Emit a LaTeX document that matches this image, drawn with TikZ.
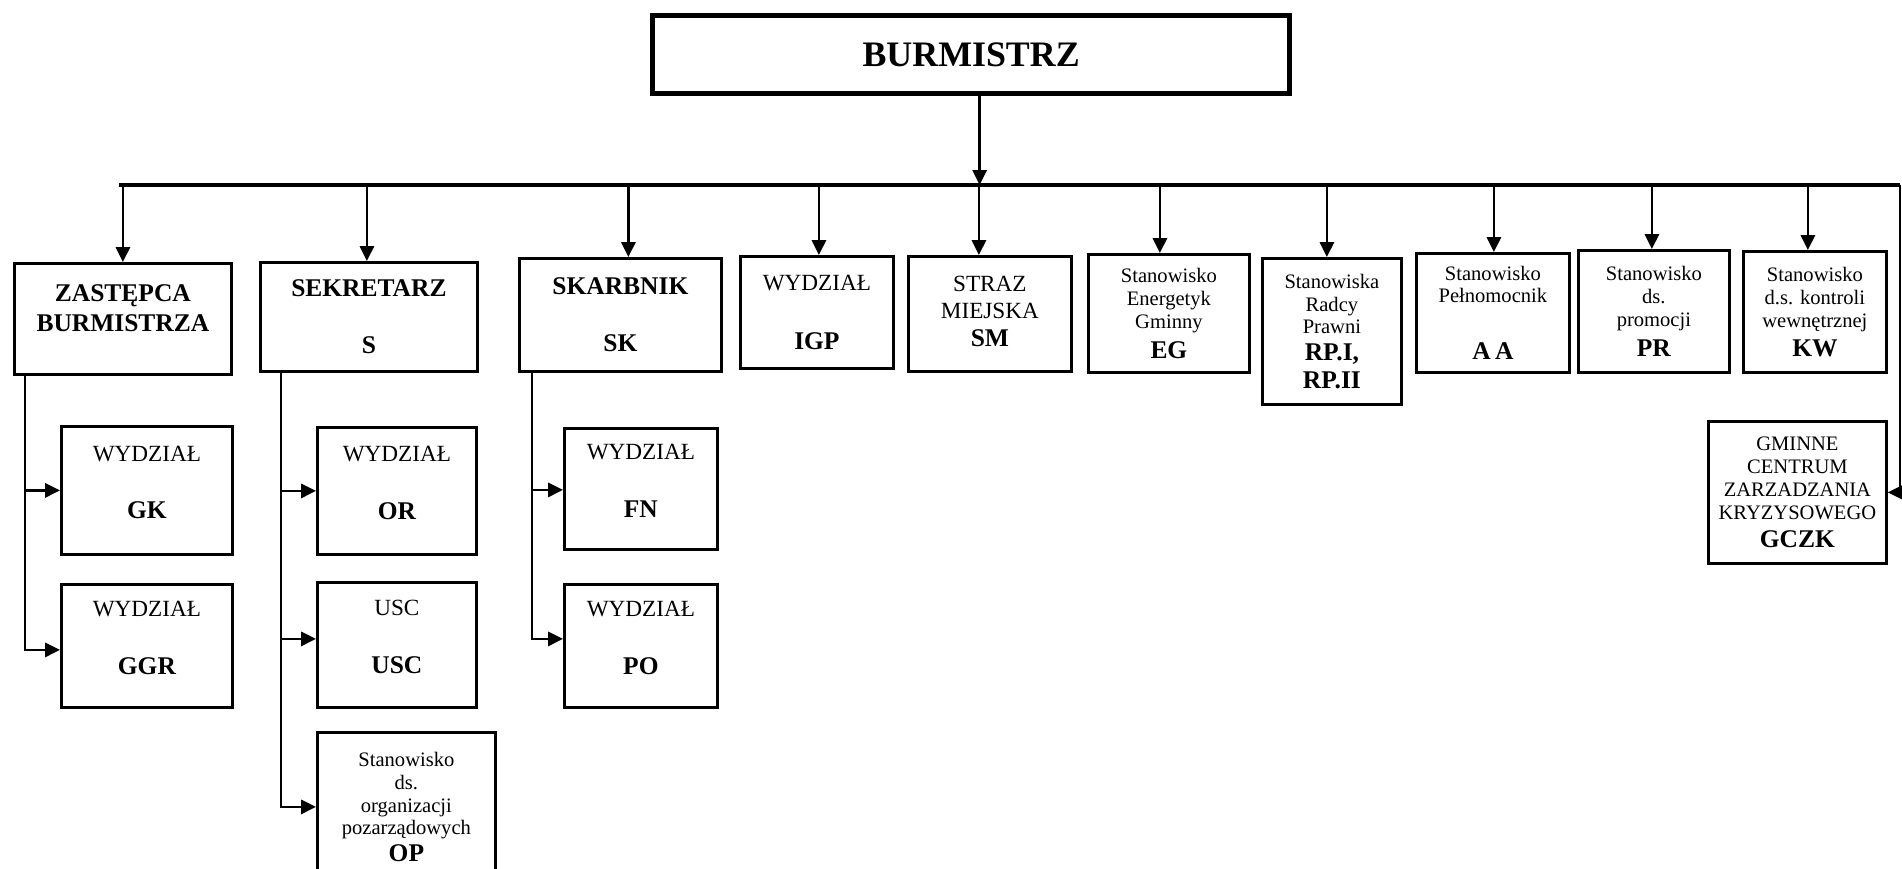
\documentclass[tikz,border=0pt]{standalone}
\usepackage{fontspec}
\setmainfont{Liberation Serif}
\usepackage{tikz}
\usetikzlibrary{arrows.meta}
\newcommand{\orgbig}{\fontsize{10.2}{12}\selectfont\bfseries}
\newcommand{\orgbold}{\fontsize{7.25}{8.3}\selectfont\bfseries}
\newcommand{\orgmid}{\fontsize{6.6}{7.8}\selectfont}
\newcommand{\orgsmall}{\fontsize{5.85}{6.5}\selectfont}

\begin{document}
\begin{tikzpicture}[x=0.1mm, y=-0.1mm,
        unit/.style={draw, line width=0.8pt, anchor=north west, align=center, inner sep=1pt},
        link/.style={line width=0.7pt},
        pointer/.style={link, -{Triangle[length=4.2pt, width=4pt]}}]
            \useasboundingbox (0,0) rectangle (1902,869);
            \node[unit, line width=1.5pt, minimum width=63.7mm, minimum height=7.8mm, font=\orgbig] (burmistrz) at (650,13) {BURMISTRZ};
            \node[unit, minimum width=21.7mm, minimum height=11.1mm, font=\orgbold] (zastepca) at (13,262) {ZASTĘPCA\\BURMISTRZA\\[-2.1pt]\mbox{}};
            \node[unit, minimum width=21.7mm, minimum height=10.9mm, font=\orgbold] (sekretarz) at (259,261) {SEKRETARZ\\[8pt]S};
            \node[unit, minimum width=20.2mm, minimum height=11.3mm, font=\orgbold] (skarbnik) at (518,257) {SKARBNIK\\[8pt]SK};
            \node[unit, minimum width=15.3mm, minimum height=11.2mm, font=\orgmid] (igp) at (739,255) {WYDZIAŁ\\[9pt]{\orgbold IGP}};
            \node[unit, minimum width=16.3mm, minimum height=11.5mm, font=\orgmid] (sm) at (907,255) {STRAZ\\MIEJSKA\\{\orgbold SM}\\[-6.2pt]\mbox{}};
            \node[unit, minimum width=16.1mm, minimum height=11.8mm, font=\orgsmall] (eg) at (1087,253) {Stanowisko\\Energetyk\\Gminny\\[2pt]{\orgbold EG}};
            \node[unit, minimum width=13.9mm, minimum height=14.6mm, font=\orgsmall] (rp) at (1261,257) {Stanowiska\\Radcy\\Prawni\\[1pt]{\orgbold RP.I,}\\[1.5pt]{\orgbold RP.II}};
            \node[unit, minimum width=15.3mm, minimum height=11.9mm, font=\orgsmall] (aa) at (1415,252) {Stanowisko\\Pełnomocnik\\[9.7pt]{\orgbold A\,A}};
            \node[unit, minimum width=15.1mm, minimum height=12.2mm, font=\orgsmall] (pr) at (1577,249) {Stanowisko\\ds.\\promocji\\[2pt]{\orgbold PR}};
            \node[unit, minimum width=14.3mm, minimum height=12.1mm, font=\orgsmall] (kw) at (1742,250) {Stanowisko\\d.s. kontroli\\wewnętrznej\\[1.8pt]{\orgbold KW}};
            \node[unit, minimum width=17.8mm, minimum height=14.2mm, font=\orgsmall] (gczk) at (1707,420) {GMINNE\\CENTRUM\\ZARZADZANIA\\KRYZYSOWEGO\\[1.5pt]{\orgbold GCZK}};
            \node[unit, minimum width=17.1mm, minimum height=12.8mm, font=\orgmid] (gk) at (60,425) {WYDZIAŁ\\[8.5pt]{\orgbold GK}\\[-3.2pt]\mbox{}};
            \node[unit, minimum width=17.1mm, minimum height=12.3mm, font=\orgmid] (ggr) at (60,583) {WYDZIAŁ\\[8.5pt]{\orgbold GGR}\\[-3.2pt]\mbox{}};
            \node[unit, minimum width=15.9mm, minimum height=12.7mm, font=\orgmid] (org) at (316,426) {WYDZIAŁ\\[8.5pt]{\orgbold OR}\\[-3.2pt]\mbox{}};
            \node[unit, minimum width=15.9mm, minimum height=12.5mm, font=\orgmid] (usc) at (316,581) {USC\\[8.5pt]{\orgbold USC}\\[-3.2pt]\mbox{}};
            \node[unit, minimum width=17.8mm, minimum height=14.9mm, font=\orgsmall] (op) at (316,731) {Stanowisko\\ds.\\organizacji\\pozarządowych\\[1pt]{\orgbold OP}};
            \node[unit, minimum width=15.3mm, minimum height=12.1mm, font=\orgmid] (fn) at (563,427) {WYDZIAŁ\\[8.5pt]{\orgbold FN}\\[-3.2pt]\mbox{}};
            \node[unit, minimum width=15.3mm, minimum height=12.3mm, font=\orgmid] (po) at (563,583) {WYDZIAŁ\\[8.5pt]{\orgbold PO}\\[-3.2pt]\mbox{}};
            \coordinate (busleft) at (119,185);
            \coordinate (busright) at (1900,185);
            \path ([xshift=0.85mm]burmistrz.south) coordinate (stem);
            \draw[pointer] (stem) -- (stem |- busleft);
            \draw[link, line width=1pt] (busleft) -- (busright);
            \draw[pointer] (busright) |- (gczk.east);
            \foreach \unit/\dx in {zastepca/0, sekretarz/-2, skarbnik/8, igp/2, sm/-11, eg/-9, rp/-5, aa/1, pr/-2, kw/-7}{
                \path ([xshift=\dx*0.1mm]\unit.north) coordinate (tip);
                \draw[pointer] (tip |- busleft) -- (tip);
            }
            \foreach \head/\dx/\unit/\dy in {zastepca/12/gk/0, zastepca/12/ggr/-4, sekretarz/22/org/0, sekretarz/22/usc/6, sekretarz/22/op/0, skarbnik/14/fn/-1, skarbnik/14/po/7}
                \draw[pointer] ([xshift=\dx*0.1mm]\head.south west) |- ([yshift=\dy*0.1mm]\unit.west);
        \end{tikzpicture}
\end{document}
